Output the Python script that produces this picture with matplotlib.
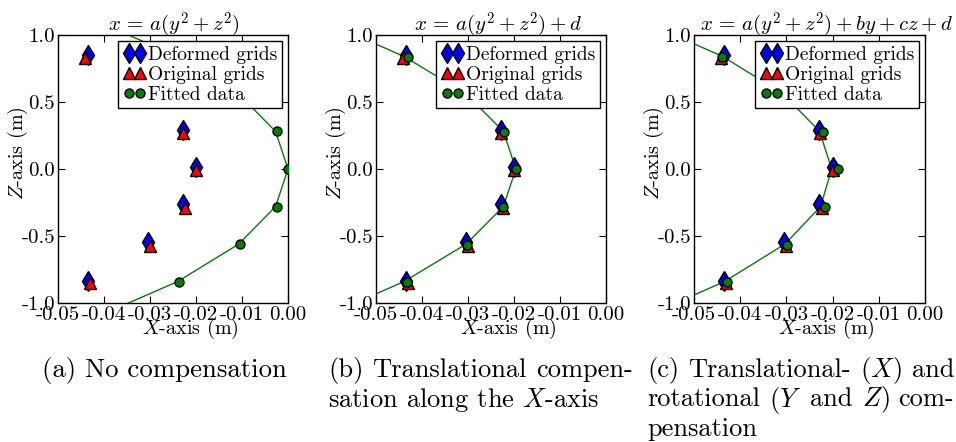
import matplotlib
matplotlib.use("Agg")
import matplotlib.pyplot as plt

plt.rcParams['font.family'] = ['cmr10', 'DejaVu Serif']
plt.rcParams['mathtext.fontset'] = 'cm'
plt.rcParams['axes.unicode_minus'] = False
plt.rcParams['axes.formatter.use_mathtext'] = False

# ---- data ----
titles = [r"$x \,=\, a(y^2 + z^2)$",
          r"$x \,=\, a(y^2 + z^2) + d$",
          r"$x \,=\, a(y^2 + z^2) + by + cz + d$"]
captions = [["(a) No compensation"],
            ["(b) Translational compen-", "sation along the $X$-axis"],
            ["(c) Translational- ($X$) and", "rotational ($Y$ and $Z$) com-", "pensation"]]

deformed_x = [-0.0435, -0.0305, -0.0229, -0.0200, -0.0229, -0.0305, -0.0435]
deformed_z = [0.851, 0.56, 0.293, 0.015, -0.263, -0.543, -0.834]
original_x = [-0.0441, -0.0300, -0.0228, -0.0199, -0.0224, -0.0300, -0.0430]
original_z = [0.829, 0.54, 0.268, -0.010, -0.288, -0.576, -0.849]

fit_a_x = [-0.0240, -0.0107, -0.0025, 0.0000, -0.0025, -0.0105, -0.0237]
fit_a_z = [0.84, 0.56, 0.28, 0.00, -0.28, -0.56, -0.84]
fit_b_x = [-0.0430, -0.0304, -0.0222, -0.0196, -0.0223, -0.0303, -0.0433]
fit_b_z = [0.838, 0.56, 0.274, 0.000, -0.284, -0.566, -0.840]
fit_c_x = [-0.0439, -0.0300, -0.0221, -0.0188, -0.0217, -0.0299, -0.0429]
fit_c_z = [0.838, 0.56, 0.274, 0.000, -0.284, -0.566, -0.840]

line_z = [1.12, 0.84, 0.56, 0.28, 0.00, -0.28, -0.56, -0.84, -1.12]
line_a_x = [-0.0427, -0.0240, -0.0107, -0.0027, 0.0000, -0.0027, -0.0107, -0.0240, -0.0427]
line_b_x = [-0.0625, -0.0439, -0.0304, -0.0223, -0.0196, -0.0223, -0.0304, -0.0439, -0.0625]
line_c_x = [-0.0622, -0.0438, -0.0307, -0.0228, -0.0202, -0.0226, -0.0303, -0.0434, -0.0618]

fits_x = [fit_a_x, fit_b_x, fit_c_x]
fits_z = [fit_a_z, fit_b_z, fit_c_z]
lines_x = [line_a_x, line_b_x, line_c_x]

xticks = [-0.05, -0.04, -0.03, -0.02, -0.01, 0.00]
yticks = [-1.0, -0.5, 0.0, 0.5, 1.0]

# ---- layout (pixels) ----
W, H = 956, 442
fig = plt.figure(figsize=(W / 100, H / 100), dpi=100)

ax_px = [(58, 288), (376, 606), (694, 925)]
top_px, bot_px = 35, 303
title_xfrac = [0.505, 0.53, 0.575]
cap_left = [42, 328, 647]
cap_right = [None, 633, 954]
caption_y0 = 377
caption_dy = 29.5
cap_size = 19.3
min_gap = 9.0

for i in range(3):
    l, r = ax_px[i]
    ax = fig.add_axes([l / W, (H - bot_px) / H, (r - l) / W, (bot_px - top_px) / H])
    ax.plot(lines_x[i], line_z, '-', color='green', lw=1.0, zorder=2)
    ax.plot(deformed_x, deformed_z, 'd', color='blue', mec='black', mew=1.0,
            ms=10, label='Deformed grids', zorder=3)
    ax.plot(original_x, original_z, '^', color='red', mec='black', mew=1.0,
            ms=9, label='Original grids', zorder=4)
    ax.plot(fits_x[i], fits_z[i], 'o', color='green', mec='black', mew=1.0,
            ms=6.5, label='Fitted data', zorder=5)
    ax.set_xlim(-0.05, 0.0)
    ax.set_ylim(-1.0, 1.0)
    ax.set_xticks(xticks)
    ax.set_yticks(yticks)
    ax.set_xticklabels(["%.2f" % v for v in xticks])
    ax.set_yticklabels(["%.1f" % v for v in yticks])
    ax.tick_params(direction='in', top=True, right=True, length=5, width=0.8,
                   labelsize=15, pad=2)
    for s in ax.spines.values():
        s.set_linewidth(1.0)
    ax.set_title(titles[i], fontsize=15, pad=3, x=title_xfrac[i])
    ax.set_xlabel("$X$-axis (m)", fontsize=14.5)
    ax.xaxis.set_label_coords(0.575, -0.05, transform=ax.transAxes)
    ax.xaxis.label.set_va('top')
    ax.set_ylabel("$Z$-axis (m)", fontsize=14.5)
    ax.yaxis.set_label_coords(-40 / (r - l), 0.56, transform=ax.transAxes)
    ax.yaxis.label.set_va('center')
    leg = ax.legend(loc='upper right', numpoints=2, fontsize=14,
                    borderaxespad=0.3, handlelength=1.2, handletextpad=0.1,
                    labelspacing=0.1, borderpad=0.25, fancybox=False,
                    framealpha=1.0)
    leg.get_frame().set_edgecolor('black')
    leg.get_frame().set_linewidth(1.0)

# ---- captions (justified like the LaTeX subcaptions) ----
fig.canvas.draw()
renderer = fig.canvas.get_renderer()


def word_widths(words, size):
    ts = [fig.text(0, 0, w, fontsize=size) for w in words]
    ws = [t.get_window_extent(renderer).width for t in ts]
    for t in ts:
        t.remove()
    return ws


for i in range(3):
    lines = captions[i]
    size = cap_size
    if cap_right[i] is not None:
        target = cap_right[i] - cap_left[i]
        for line in lines[:-1]:
            words = line.split(' ')
            ws = word_widths(words, cap_size)
            need = (target - (len(words) - 1) * min_gap) / sum(ws)
            size = min(size, cap_size * need)
    for j, line in enumerate(lines):
        y = 1 - (caption_y0 + j * caption_dy) / H
        last = (j == len(lines) - 1)
        if last or cap_right[i] is None:
            fig.text(cap_left[i] / W, y, line, fontsize=size,
                     ha='left', va='baseline')
            continue
        words = line.split(' ')
        ws = word_widths(words, size)
        target = cap_right[i] - cap_left[i]
        gap = (target - sum(ws)) / (len(words) - 1)
        x = cap_left[i]
        for w, wdt in zip(words, ws):
            fig.text(x / W, y, w, fontsize=size, ha='left', va='baseline')
            x += wdt + gap

fig.savefig("out.png", dpi=100)
